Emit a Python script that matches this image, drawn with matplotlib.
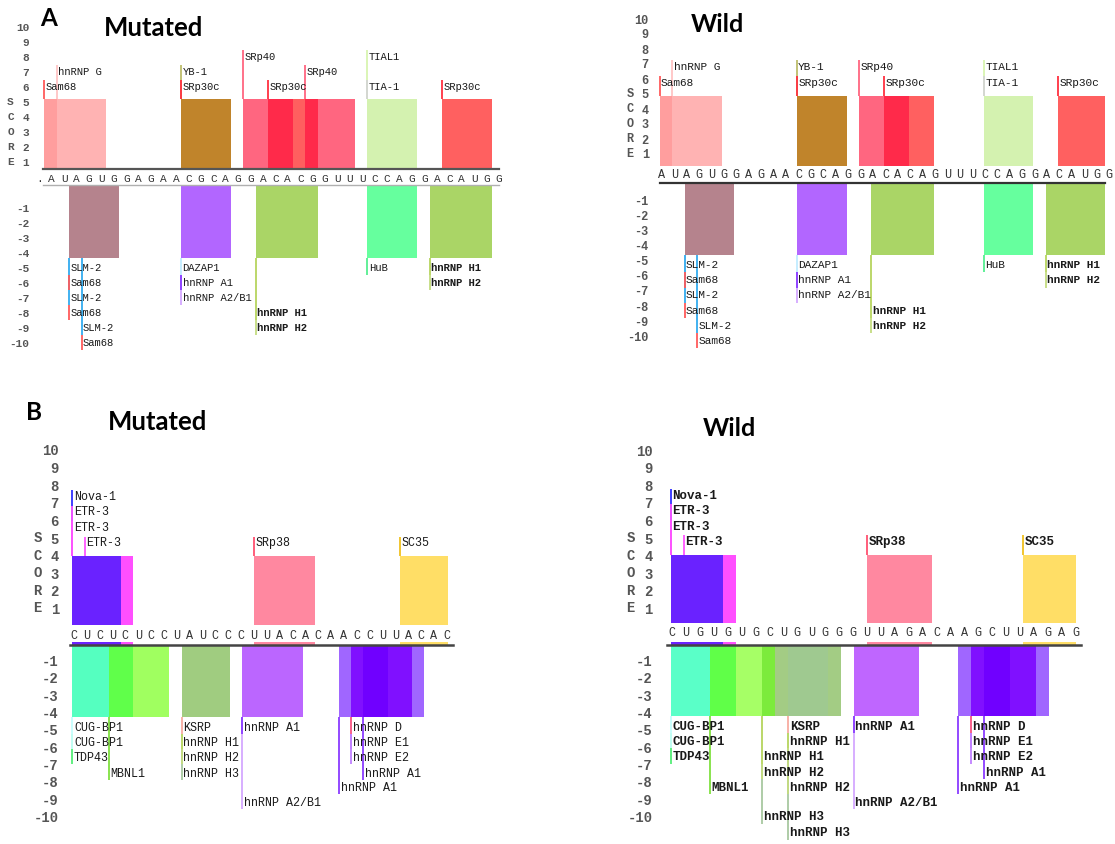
import matplotlib
matplotlib.use("Agg")
import matplotlib.pyplot as plt
import matplotlib.transforms as mtransforms

W, H = 1115, 844

# ---------------- data ----------------
seq_a_mut = ".AUAGUGGAGAACGCAGGACACGGUUUCCAGGACAUGG"
seq_a_wild = "AUAGUGGAGAACGCAGGACACAGUUUCCAGGACAUGG"
seq_b_mut = "CUCUCUCCUAUCCCUUACACAACCUUACAC"
seq_b_wild = "CUGUGUGCUGUGGGUUAGACAAGCUUAGAG"

# bar heights (enhancer, silencer)
score_a_mut = (5.2, -4.33)
score_a_wild = (4.87, -4.61)
score_b_mut = (4.0, -4.24)
score_b_wild = (4.03, -4.18)

# bar blocks as (first nt, end nt)
blocks_a_mut_up = [(0, 1), (1, 5), (11, 15), (16, 18), (18, 20), (20, 21), (21, 22), (22, 25), (26, 30), (32, 36)]
blocks_a_mut_dn = [(2, 6), (11, 15), (17, 22), (26, 30), (31, 36)]
blocks_a_wild_up = [(0, 1), (1, 5), (11, 15), (16, 18), (18, 20), (20, 22), (26, 30), (32, 36)]
blocks_a_wild_dn = [(2, 6), (11, 15), (17, 22), (26, 30), (31, 36)]
blocks_b_mut_up = [(0, 4), (4, 5), (15, 20), (27, 31)]
blocks_b_mut_dn = [(0, 3), (3, 5), (5, 8), (9, 13), (14, 19), (22, 23), (23, 24), (24, 26), (26, 28), (28, 29)]
blocks_b_wild_up = [(0, 4), (4, 5), (15, 20), (27, 31)]
blocks_b_wild_dn = [(0, 3), (3, 5), (5, 7), (7, 8), (8, 9), (9, 12), (12, 13), (14, 19),
                    (22, 23), (23, 24), (24, 26), (26, 28), (28, 29)]

# protein hits: (name, start nt, label score)
hits_a_mut_up = [("Sam68", 0, 6), ("hnRNP G", 1, 7), ("YB-1", 11, 7), ("SRp30c", 11, 6),
                 ("SRp40", 16, 8), ("SRp30c", 18, 6), ("SRp40", 21, 7),
                 ("TIAL1", 26, 8), ("TIA-1", 26, 6), ("SRp30c", 32, 6)]
hits_a_mut_dn = [("SLM-2", 2, -5), ("Sam68", 2, -6), ("SLM-2", 2, -7), ("Sam68", 2, -8),
                 ("SLM-2", 3, -9), ("Sam68", 3, -10), ("DAZAP1", 11, -5), ("hnRNP A1", 11, -6),
                 ("hnRNP A2/B1", 11, -7), ("hnRNP H1", 17, -8), ("hnRNP H2", 17, -9),
                 ("HuB", 26, -5), ("hnRNP H1", 31, -5), ("hnRNP H2", 31, -6)]
hits_a_wild_up = [("Sam68", 0, 5.75), ("hnRNP G", 1, 6.8), ("YB-1", 11, 6.8), ("SRp30c", 11, 5.75),
                  ("SRp40", 16, 6.8), ("SRp30c", 18, 5.75), ("TIAL1", 26, 6.8), ("TIA-1", 26, 5.75),
                  ("SRp30c", 32, 5.75)]
hits_a_wild_dn = [("SLM-2", 2, -5.3), ("Sam68", 2, -6.3), ("SLM-2", 2, -7.3), ("Sam68", 2, -8.3),
                  ("SLM-2", 3, -9.3), ("Sam68", 3, -10.3), ("DAZAP1", 11, -5.3), ("hnRNP A1", 11, -6.3),
                  ("hnRNP A2/B1", 11, -7.3), ("hnRNP H1", 17, -8.3), ("hnRNP H2", 17, -9.3),
                  ("HuB", 26, -5.3), ("hnRNP H1", 31, -5.3), ("hnRNP H2", 31, -6.3)]
hits_b_mut_up = [("Nova-1", 0, 7.35), ("ETR-3", 0, 6.46), ("ETR-3", 0, 5.59), ("ETR-3", 1, 4.73),
                 ("SRp38", 15, 4.73), ("SC35", 27, 4.73)]
hits_b_mut_dn = [("CUG-BP1", 0, -4.9), ("CUG-BP1", 0, -5.73), ("TDP43", 0, -6.63), ("MBNL1", 3, -7.54),
                 ("KSRP", 9, -4.9), ("hnRNP H1", 9, -5.73), ("hnRNP H2", 9, -6.63), ("hnRNP H3", 9, -7.54),
                 ("hnRNP A1", 14, -4.9), ("hnRNP A2/B1", 14, -9.22),
                 ("hnRNP D", 23, -4.9), ("hnRNP E1", 23, -5.73), ("hnRNP E2", 23, -6.63),
                 ("hnRNP A1", 24, -7.54), ("hnRNP A1", 22, -8.36)]
hits_b_wild_up = [("Nova-1", 0, 7.39), ("ETR-3", 0, 6.53), ("ETR-3", 0, 5.64), ("ETR-3", 1, 4.79),
                  ("SRp38", 15, 4.79), ("SC35", 27, 4.79)]
hits_b_wild_dn = [("CUG-BP1", 0, -4.81), ("CUG-BP1", 0, -5.68), ("TDP43", 0, -6.58), ("MBNL1", 3, -8.33),
                  ("hnRNP H1", 7, -6.58), ("hnRNP H2", 7, -7.47), ("hnRNP H3", 7, -10.04),
                  ("KSRP", 9, -4.81), ("hnRNP H1", 9, -5.68), ("hnRNP H2", 9, -8.33), ("hnRNP H3", 9, -10.96),
                  ("hnRNP A1", 14, -4.81), ("hnRNP A2/B1", 14, -9.2),
                  ("hnRNP D", 23, -4.81), ("hnRNP E1", 23, -5.68), ("hnRNP E2", 23, -6.58),
                  ("hnRNP A1", 24, -7.47), ("hnRNP A1", 22, -8.33)]

# ---------------- styles ----------------
colors_a_mut_up = ["#ff9e9e", "#ffb3b3", "#c0842b", "#ff6680", "#ff2a4a", "#ff5f5f", "#ff2a4a",
                   "#ff6680", "#d4f2b0", "#ff6060"]
colors_a_dn = ["#b5838d", "#b266ff", "#aad566", "#66ff9e", "#aad566"]
colors_a_wild_up = ["#ff9e9e", "#ffb3b3", "#c0842b", "#ff6680", "#ff2a4a", "#ff6060", "#d4f2b0", "#ff6060"]
colors_b_up = ["#6a22ff", "#ff4fff", "#ff88a0", "#ffde66"]
colors_b_mut_dn = ["#55ffc0", "#60ff4a", "#a0ff60", "#a0cc80", "#bb66ff",
                   "#a066ff", "#8010ff", "#7000ff", "#8010ff", "#a066ff"]
colors_b_wild_dn = ["#5affc8", "#60ff48", "#a6ff66", "#7ceb3c", "#a3cc84", "#9fc990", "#a3cc84", "#bf66ff",
                    "#a066ff", "#8010ff", "#7000ff", "#8010ff", "#a066ff"]

line_colors = {
    "Sam68": "#ff5a5a", "hnRNP G": "#ffc4c4", "YB-1": "#bdbd6b", "SRp30c": "#ff3040",
    "SRp40": "#ff6680", "TIAL1": "#d8f5b0", "TIA-1": "#d4d4d4", "SLM-2": "#33bbff",
    "DAZAP1": "#ccffff", "hnRNP A1": "#8a3cff", "hnRNP A2/B1": "#d4a8ff", "hnRNP H1": "#bcd86a",
    "hnRNP H2": "#c4dc80", "hnRNP H3": "#a8c8a0", "HuB": "#55ee90", "Nova-1": "#3030ff",
    "ETR-3": "#ff55ff", "SRp38": "#ff5070", "SC35": "#f0c020", "CUG-BP1": "#ccffff",
    "TDP43": "#55ee77", "MBNL1": "#80e040", "KSRP": "#ffb0b0", "hnRNP D": "#ff6080",
    "hnRNP E1": "#c080ff", "hnRNP E2": "#c080ff",
}

MONO = "Liberation Mono"
TITLE = "Lato"

fig = plt.figure(figsize=(W / 100, H / 100), dpi=100)


def add_px_axes(left, right, top, bottom):
    return fig.add_axes([left / W, 1 - bottom / H, (right - left) / W, (bottom - top) / H])


def draw_panel(g, seq, scores, up_blocks, up_colors, dn_blocks, dn_colors, up_hits, dn_hits):
    nx0, ns = g["nx0"], g["ns"]
    xl = g["xlim"]
    left, right = nx0 + ns * xl[0], nx0 + ns * xl[1]
    # upper (enhancer) axes
    y0t, ut, bt = g["y0t"], g["unit_t"], g["base_t"]
    axu = add_px_axes(left, right, y0t - ut * 10.7, y0t - ut * bt)
    axu.set_xlim(*xl)
    axu.set_ylim(bt, 10.7)
    # lower (silencer) axes
    y0b, ub, bb = g["y0b"], g["unit_b"], g["base_b"]
    axd = add_px_axes(left, right, y0b - ub * bb, y0b + ub * 11.8)
    axd.set_xlim(*xl)
    axd.set_ylim(-11.8, bb)

    for ax in (axu, axd):
        ax.patch.set_alpha(0)
        for s in ax.spines.values():
            s.set_visible(False)
        ax.set_xticks([])
        ax.tick_params(axis="y", length=0, pad=g["pad"], labelsize=g["tick_fs"],
                       labelcolor="#555555")
    axu.set_yticks(range(1, 11))
    axu.set_yticklabels([str(i) for i in range(1, 11)], fontfamily=MONO, fontweight="bold")
    axd.set_yticks(range(-1, -11, -1))
    axd.set_yticklabels([str(i) for i in range(-1, -11, -1)], fontfamily=MONO, fontweight="bold")

    if g["line_up"]:
        axu.spines["bottom"].set_visible(True)
        axu.spines["bottom"].set_color(g["line_up"])
        axu.spines["bottom"].set_linewidth(1.6)
    axd.spines["top"].set_visible(True)
    axd.spines["top"].set_color(g["line_dn"])
    axd.spines["top"].set_linewidth(g["line_dn_w"])

    # SCORE letters
    tr = mtransforms.blended_transform_factory(fig.transFigure, axu.transData)
    for ch, v in zip("SCORE", [5, 4, 3, 2, 1]):
        axu.text(g["score_x"] / W, v, ch, transform=tr, ha="center", va="center",
                 fontfamily=MONO, fontweight="bold", fontsize=g["tick_fs"], color="#555555")

    # bars
    up, dn = scores
    axu.bar([b[0] for b in up_blocks], [up - bt] * len(up_blocks), bottom=bt,
            width=[b[1] - b[0] for b in up_blocks], align="edge", color=up_colors, linewidth=0)
    axd.bar([b[0] for b in dn_blocks], [dn - bb] * len(dn_blocks), bottom=bb,
            width=[b[1] - b[0] for b in dn_blocks], align="edge", color=dn_colors, linewidth=0)
    if g["strip"]:
        axd.bar([b[0] for b in up_blocks], [0.16] * len(up_blocks), bottom=bb,
                width=[b[1] - b[0] for b in up_blocks], align="edge", color=up_colors,
                linewidth=0, clip_on=False)

    # sequence
    trs = mtransforms.blended_transform_factory(axu.transData, fig.transFigure)
    n = len(seq)
    a, b = g["seq_span"]
    for i, ch in enumerate(seq):
        x = a + (b - a) * i / (n - 1)
        axu.text(x, 1 - g["seq_y"] / H, ch, transform=trs, ha="center", va="center",
                 fontfamily=MONO, fontsize=g["seq_fs"], color="#333333")

    # labels with leader lines (farthest first so nearer lines sit on top)
    for ax, hits, edge, sign in ((axu, up_hits, up, 1), (axd, dn_hits, dn, -1)):
        for name, x, v in sorted(hits, key=lambda h: -abs(h[2])):
            ax.plot([x, x], [edge, v + sign * g["over"]], color=line_colors[name],
                    lw=1.3, solid_capstyle="butt", clip_on=False)
        for name, x, v in hits:
            ax.text(x + 0.12, v, name, ha="left", va="center", fontfamily=MONO,
                    fontsize=g["lab_fs"], color="#1a1a1a",
                    fontweight="bold" if (g["bold_all"] or name in ("hnRNP H1", "hnRNP H2") and g["bold_h"]) else "normal")


geo_a_mut = dict(nx0=44.3, ns=12.43, xlim=(-0.1, 36.6), y0t=177, unit_t=15, base_t=0.53,
                 y0b=193, unit_b=15, base_b=0.53, pad=10, tick_fs=8, score_x=10.5,
                 line_up="#555555", line_dn="#b0b0b0", line_dn_w=1.0, strip=False,
                 seq_span=(-0.4, 36.58), seq_y=179, seq_fs=8, over=0.47, lab_fs=7.6,
                 bold_all=False, bold_h=True)
geo_a_wild = dict(nx0=659.6, ns=12.46, xlim=(0.03, 35.75), y0t=169, unit_t=15, base_t=0.22,
                  y0b=185.7, unit_b=15.04, base_b=0.18, pad=8, tick_fs=8.6, score_x=630,
                  line_up=None, line_dn="#333333", line_dn_w=1.6, strip=False,
                  seq_span=(0.17, 36.07), seq_y=175, seq_fs=8.5, over=0.47, lab_fs=8.0,
                  bold_all=False, bold_h=True)
geo_b_mut = dict(nx0=72.5, ns=12.12, xlim=(-0.2, 31.4), y0t=626, unit_t=17.6, base_t=0.06,
                 y0b=643.3, unit_b=17.33, base_b=-0.1, pad=8, tick_fs=10, score_x=37.7,
                 line_up=None, line_dn="#444444", line_dn_w=1.8, strip=True,
                 seq_span=(0.12, 30.87), seq_y=635.7, seq_fs=8.5, over=0.35, lab_fs=8.4,
                 bold_all=False, bold_h=False)
geo_b_wild = dict(nx0=671, ns=13.05, xlim=(-0.33, 31.4), y0t=626, unit_t=17.6, base_t=0.19,
                  y0b=643.3, unit_b=17.33, base_b=-0.1, pad=10, tick_fs=10, score_x=630.7,
                  line_up=None, line_dn="#444444", line_dn_w=1.8, strip=True,
                  seq_span=(0.08, 31.0), seq_y=633.3, seq_fs=8.5, over=0.38, lab_fs=9.0,
                  bold_all=True, bold_h=True)

draw_panel(geo_a_mut, seq_a_mut, score_a_mut, blocks_a_mut_up, colors_a_mut_up,
           blocks_a_mut_dn, colors_a_dn, hits_a_mut_up, hits_a_mut_dn)
draw_panel(geo_a_wild, seq_a_wild, score_a_wild, blocks_a_wild_up, colors_a_wild_up,
           blocks_a_wild_dn, colors_a_dn, hits_a_wild_up, hits_a_wild_dn)
draw_panel(geo_b_mut, seq_b_mut, score_b_mut, blocks_b_mut_up, colors_b_up,
           blocks_b_mut_dn, colors_b_mut_dn, hits_b_mut_up, hits_b_mut_dn)
draw_panel(geo_b_wild, seq_b_wild, score_b_wild, blocks_b_wild_up, colors_b_up,
           blocks_b_wild_dn, colors_b_wild_dn, hits_b_wild_up, hits_b_wild_dn)

# panel titles
for x, y, s, fs in [(49, 18.5, "A", 17.5), (154, 27.5, "Mutated", 18.5), (717.5, 24, "Wild", 18),
                    (34, 413, "B", 17.5), (158, 422, "Mutated", 18.5), (729.5, 428, "Wild", 18)]:
    fig.text(x / W, 1 - y / H, s, ha="center", va="center", fontfamily=TITLE,
             fontweight="bold", fontsize=fs, color="black")

fig.savefig("out.png", dpi=100)
